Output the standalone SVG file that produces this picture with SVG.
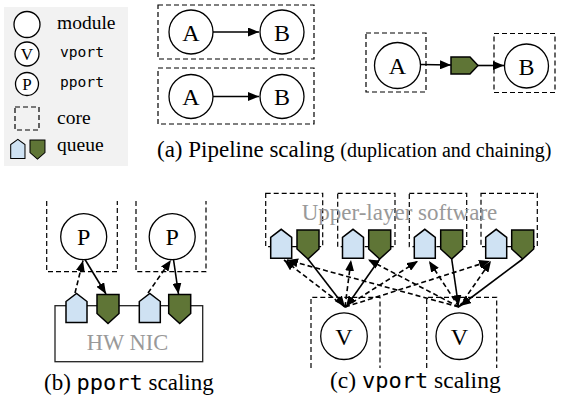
<svg xmlns="http://www.w3.org/2000/svg" width="561" height="402" viewBox="0 0 561 402">
<style>
.mod{fill:#fff;stroke:#000;stroke-width:1.3}
.core{fill:none;stroke:#000;stroke-width:1.2;stroke-dasharray:5 3}
.t{font-family:"Liberation Serif","Times New Roman",serif;fill:#000}
.m{font-family:"DejaVu Sans Mono","Liberation Mono",monospace;fill:#000}
.lbl{font-family:"Liberation Serif","Times New Roman",serif;font-size:24px;text-anchor:middle}
.lbls{font-family:"Liberation Serif","Times New Roman",serif;font-size:17px;text-anchor:middle}
.gray{fill:#999}
.bq{fill:#cfe2f3;stroke:#000;stroke-width:1.5;stroke-linejoin:miter}
.gq{fill:#5f7536;stroke:#000;stroke-width:1.5;stroke-linejoin:miter}
.sol{fill:none;stroke:#000;stroke-width:1.6}
.dash{fill:none;stroke:#000;stroke-width:1.6;stroke-dasharray:5 3}
</style>
<defs>
<marker id="ah" markerUnits="userSpaceOnUse" markerWidth="11" markerHeight="9" refX="11" refY="4.5" orient="auto">
<path d="M0,0 L11,4.5 L0,9 Z" fill="#000"/>
</marker>
<path id="blueq" d="M0,29 V8 L10.5,0 L21,8 V29 Z"/>
<path id="greenq" d="M0,0 H22 V19 L11,29 L0,19 Z"/>
</defs>

<!-- Legend -->
<g id="legend">
<rect x="4" y="7" width="124" height="159" fill="#f2f2f2"/>
<circle class="mod" cx="27" cy="24.5" r="13"/>
<text class="t" x="57" y="29" font-size="19.5">module</text>
<circle class="mod" cx="27" cy="54" r="12"/>
<text class="lbls" x="27" y="60">V</text>
<text class="m" x="60" y="57" font-size="14.6">vport</text>
<circle class="mod" cx="27" cy="84" r="11.5"/>
<text class="lbls" x="27" y="90">P</text>
<text class="m" x="60" y="87" font-size="14.6">pport</text>
<rect class="core" x="15" y="107" width="24" height="23"/>
<text class="t" x="57" y="124" font-size="19.5">core</text>
<use href="#blueq" class="bq" transform="translate(10.7,139.3) scale(0.68,0.66)"/>
<use href="#greenq" class="gq" transform="translate(30,140) scale(0.68,0.66)"/>
<text class="t" x="57" y="151" font-size="19.5">queue</text>
</g>

<!-- (a) Pipeline scaling -->
<g id="a-core1"><rect class="core" x="158" y="5" width="156" height="54"/></g>
<g id="a-core2"><rect class="core" x="158" y="68" width="156" height="56"/></g>
<g id="a-A1"><circle class="mod" cx="191" cy="32" r="22"/><text class="lbl" x="191" y="40.5">A</text></g>
<g id="a-B1"><circle class="mod" cx="282" cy="32" r="22"/><text class="lbl" x="282" y="40.5">B</text></g>
<g id="a-A2"><circle class="mod" cx="191" cy="96.5" r="22"/><text class="lbl" x="191" y="105">A</text></g>
<g id="a-B2"><circle class="mod" cx="282" cy="96.5" r="22"/><text class="lbl" x="282" y="105">B</text></g>
<g id="a-core3"><rect class="core" x="366" y="33" width="60" height="59"/></g>
<g id="a-A3"><circle class="mod" cx="397.5" cy="65.5" r="23"/><text class="lbl" x="397.5" y="74">A</text></g>
<g id="a-queue"><path class="gq" d="M451,57 H470 L478,65.5 L470,74 H451 Z"/></g>
<g id="a-core4"><rect class="core" x="494" y="33.5" width="61" height="59"/></g>
<g id="a-B3"><circle class="mod" cx="526.5" cy="66" r="22"/><text class="lbl" x="526.5" y="74.5">B</text></g>
<text class="t" x="157" y="157" font-size="23">(a) Pipeline scaling <tspan font-size="20">(duplication and chaining)</tspan></text>

<!-- (b) pport scaling -->
<g id="b-core1"><path class="core" d="M46.7,201 V271.7 H117.3 V201"/></g>
<g id="b-core2"><path class="core" d="M136,201 V271.7 H206 V201"/></g>
<g id="b-P1"><circle class="mod" cx="83.7" cy="236.7" r="23"/><text class="lbl" x="83.7" y="245">P</text></g>
<g id="b-P2"><circle class="mod" cx="172.2" cy="236.7" r="23"/><text class="lbl" x="172.2" y="245">P</text></g>
<g id="b-nic">
<rect x="55" y="305.7" width="147.7" height="56" fill="#fff" stroke="#222" stroke-width="1.3"/>
<text class="t gray" x="127.5" y="350" font-size="22.5" text-anchor="middle">HW NIC</text>
</g>
<g id="b-q1"><use href="#blueq" class="bq" x="66" y="293.5"/></g>
<g id="b-q2"><use href="#greenq" class="gq" x="97" y="294.5"/></g>
<g id="b-q3"><use href="#blueq" class="bq" x="139.3" y="293.5"/></g>
<g id="b-q4"><use href="#greenq" class="gq" x="168.7" y="294.5"/></g>
<text class="t" x="44" y="390" font-size="23">(b) <tspan class="m" font-size="22">pport</tspan> scaling</text>

<!-- (c) vport scaling -->
<g id="c-core1"><rect class="core" x="265.7" y="193.3" width="57" height="53.4"/></g>
<g id="c-core2"><rect class="core" x="337.7" y="193.3" width="57.3" height="53.4"/></g>
<g id="c-core3"><rect class="core" x="409.3" y="193.3" width="57.4" height="53.4"/></g>
<g id="c-core4"><rect class="core" x="481" y="193.3" width="56.3" height="53.4"/></g>
<text class="t gray" x="301.7" y="220" font-size="23">Upper-layer software</text>
<g id="c-q1"><use href="#blueq" class="bq" x="270.7" y="229.3"/></g>
<g id="c-q2"><use href="#greenq" class="gq" x="297" y="230"/></g>
<g id="c-q3"><use href="#blueq" class="bq" x="342.5" y="229.3"/></g>
<g id="c-q4"><use href="#greenq" class="gq" x="368.7" y="230"/></g>
<g id="c-q5"><use href="#blueq" class="bq" x="414.3" y="229.3"/></g>
<g id="c-q6"><use href="#greenq" class="gq" x="440.7" y="230"/></g>
<g id="c-q7"><use href="#blueq" class="bq" x="485.7" y="229.3"/></g>
<g id="c-q8"><use href="#greenq" class="gq" x="511.7" y="230"/></g>
<g id="c-core5"><path class="core" d="M311,368 V297.3 H380 V368"/></g>
<g id="c-core6"><path class="core" d="M426.7,368 V297.3 H496.7 V368"/></g>
<g id="c-V1"><circle class="mod" cx="344" cy="336.2" r="23.3"/><text class="lbl" x="344" y="344.5">V</text></g>
<g id="c-V2"><circle class="mod" cx="459.3" cy="336.2" r="23.3"/><text class="lbl" x="459.3" y="344.5">V</text></g>
<text class="t" x="330" y="388" font-size="23.5">(c) <tspan class="m" font-size="22">vport</tspan> scaling</text>

<!-- connectors -->
<g id="connectors">
<line class="sol" x1="213" y1="32" x2="259" y2="32" marker-end="url(#ah)"/>
<line class="sol" x1="213" y1="96.5" x2="259" y2="96.5" marker-end="url(#ah)"/>
<line class="sol" x1="420.5" y1="64.5" x2="451" y2="65" marker-end="url(#ah)"/>
<line class="sol" x1="478" y1="65.5" x2="504" y2="65.5" marker-end="url(#ah)"/>

<line class="dash" x1="75" y1="293" x2="83" y2="260.5" marker-end="url(#ah)"/>
<line class="sol" x1="85" y1="259.5" x2="106" y2="294" marker-end="url(#ah)"/>
<line class="dash" x1="148" y1="293" x2="171" y2="260" marker-end="url(#ah)"/>
<line class="sol" x1="173.5" y1="259.5" x2="178.5" y2="294" marker-end="url(#ah)"/>

<line class="sol" x1="308" y1="259" x2="345" y2="307" marker-end="url(#ah)"/>
<line class="sol" x1="379.7" y1="259" x2="346" y2="307" marker-end="url(#ah)"/>
<line class="sol" x1="451.7" y1="259" x2="458.5" y2="306" marker-end="url(#ah)"/>
<line class="sol" x1="522.7" y1="259" x2="460" y2="306" marker-end="url(#ah)"/>

<line class="dash" x1="345" y1="307" x2="284" y2="260" marker-end="url(#ah)"/>
<line class="dash" x1="459" y1="307" x2="287" y2="260" marker-end="url(#ah)"/>
<line class="dash" x1="345" y1="307" x2="351" y2="260" marker-end="url(#ah)"/>
<line class="dash" x1="459" y1="307" x2="368" y2="259.5" marker-end="url(#ah)"/>
<line class="dash" x1="345" y1="307" x2="418" y2="261" marker-end="url(#ah)"/>
<line class="dash" x1="459" y1="307" x2="429" y2="261" marker-end="url(#ah)"/>
<line class="dash" x1="345" y1="307" x2="490" y2="261" marker-end="url(#ah)"/>
<line class="dash" x1="459" y1="307" x2="491" y2="261" marker-end="url(#ah)"/>
</g>
</svg>
